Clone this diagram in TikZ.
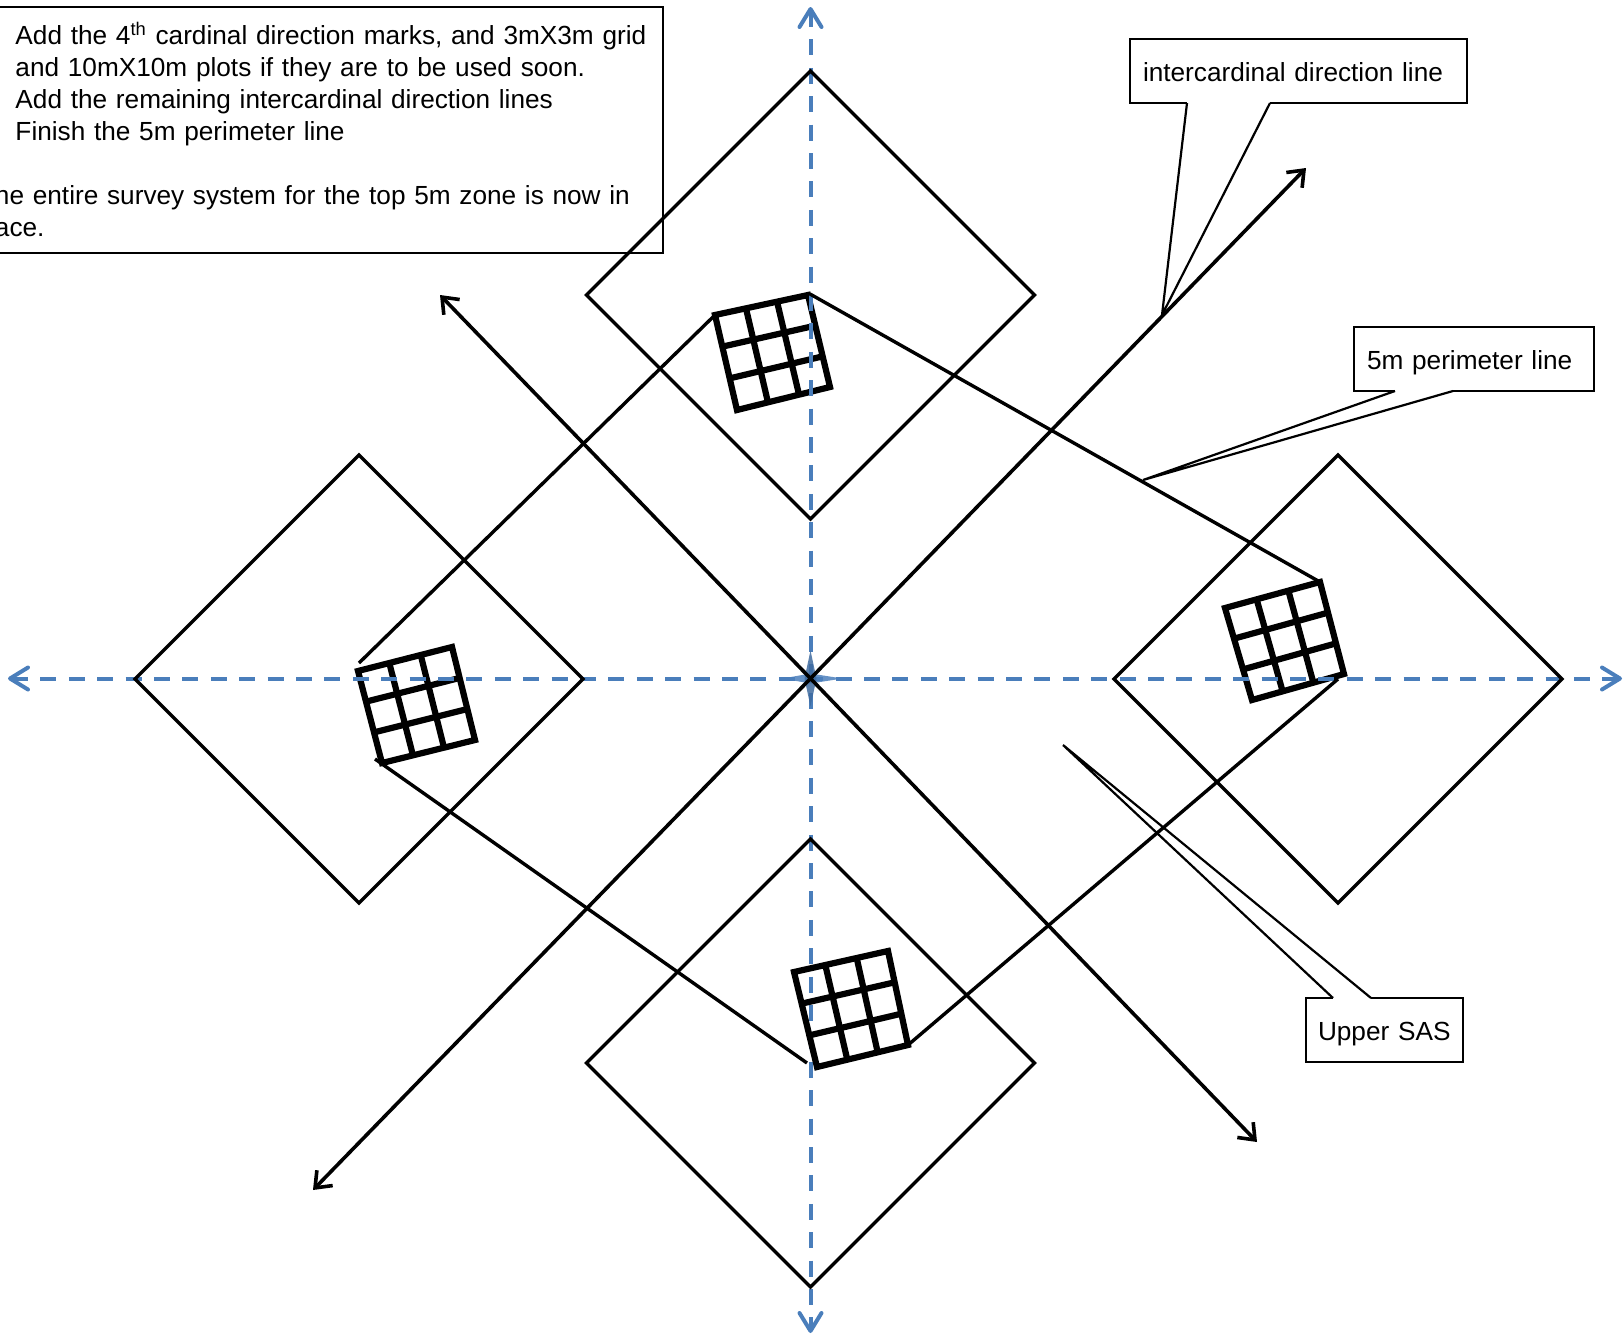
\documentclass[tikz,border=0pt]{standalone}
\usepackage{fontspec}
\setmainfont[WordSpace=0.9]{Liberation Sans}
\usetikzlibrary{shapes.geometric, arrows.meta, positioning, calc}
\definecolor{axisblue}{HTML}{4A7EBB}
\tikzset{
	zone/.style = {draw, diamond, aspect=1, inner sep=0pt, outer sep=0pt, minimum width=224pt, minimum height=224pt, line width=1.7pt},
	plotgrid/.style = {draw, line width=3.1pt, line join=miter},
	axis/.style = {axisblue, line width=2pt, dash pattern=on 8pt off 6.2pt, {Straight Barb[round,length=9pt,width=11pt]}-{Straight Barb[round,length=9pt,width=11pt]}},
	arrow/.style = {-{Straight Barb[length=7pt,width=11pt]}, line width=1.8pt},
	perimeter/.style = {line width=1.7pt},
	note/.style = {draw, fill=white, rectangle, anchor=north west, inner ysep=0pt, outer sep=0pt, line width=1.2pt, align=left, font=\fontsize{13.1}{16}\selectfont},
	tag/.style = {note, minimum height=32pt, text height=10pt, text depth=0pt},
	tail/.style = {line width=1.1pt, line join=miter},
}

\begin{document}
\begin{tikzpicture}[x=0.5pt, y=-0.5pt]
			\useasboundingbox (0,0) rectangle (1623,1334);
			
			% Notes box
			\node[note, inner xsep=7.5pt, text width=326.5pt, minimum height=123pt] (notes) at (-20,7) {\hspace*{10.25pt}Add the 4\textsuperscript{th} cardinal direction marks, and 3mX3m grid \\ \hspace*{10.25pt}and 10mX10m plots if they are to be used soon. \\ \hspace*{10.25pt}Add the remaining intercardinal direction lines \\ \hspace*{10.25pt}Finish the 5m perimeter line \\[16pt] he entire survey system for the top 5m zone is now in \\ ace.\rule[-1pt]{0pt}{0pt}};
			
			% Axis ends and centre
			\coordinate (north) at (810.5,7);
			\coordinate (south) at (810.5,1333);
			\coordinate (west) at (8,678.5);
			\coordinate (east) at (1622,678.5);
			\coordinate (origin) at (810.5,678.5);
			
			% Plot corners
			\coordinate (top-nw) at (715,315);
			\coordinate (top-ne) at (808,295);
			\coordinate (top-se) at (830,387);
			\coordinate (top-sw) at (737,410);
			\coordinate (right-nw) at (1225,608);
			\coordinate (right-ne) at (1320,582);
			\coordinate (right-se) at (1344,674);
			\coordinate (right-sw) at (1252,700);
			\coordinate (left-nw) at (358,671);
			\coordinate (left-ne) at (452,647);
			\coordinate (left-se) at (475,740);
			\coordinate (left-sw) at (382,763);
			\coordinate (bottom-nw) at (794,972);
			\coordinate (bottom-ne) at (888,951);
			\coordinate (bottom-se) at (908,1045);
			\coordinate (bottom-sw) at (817,1067);
			
			% 3mX3m grids
			\foreach \g in {top,right,left} {
				\draw[plotgrid] (\g-nw) -- (\g-ne) -- (\g-se) -- (\g-sw) -- cycle;
				\foreach \t in {0.333,0.667} {
					\draw[plotgrid] ($(\g-nw)!\t!(\g-ne)$) -- ($(\g-sw)!\t!(\g-se)$);
					\draw[plotgrid] ($(\g-nw)!\t!(\g-sw)$) -- ($(\g-ne)!\t!(\g-se)$);
				}
			}
			
			% Cardinal directions
			\draw[axis] (north) -- (south);
			\draw[axis] (west) -- (east);
			\fill[axisblue, fill opacity=0.85] (origin) ++(-28,0) -- ++(28,-5) -- ++(32,5) -- ++(-32,5) -- cycle;
			\fill[axisblue!85!black, fill opacity=0.85] (origin) ++(0,-28) -- ++(6,28) -- ++(-6,28) -- ++(-6,-28) -- cycle;
			
			% Last grid lies over the axis
			\foreach \g in {bottom} {
				\draw[plotgrid] (\g-nw) -- (\g-ne) -- (\g-se) -- (\g-sw) -- cycle;
				\foreach \t in {0.333,0.667} {
					\draw[plotgrid] ($(\g-nw)!\t!(\g-ne)$) -- ($(\g-sw)!\t!(\g-se)$);
					\draw[plotgrid] ($(\g-nw)!\t!(\g-sw)$) -- ($(\g-ne)!\t!(\g-se)$);
				}
			}
			
			% 10mX10m plots
			\node[zone] (topzone) at (810.5,295) {};
			\node[zone] (rightzone) at (1338,679) {};
			\node[zone] (bottomzone) at (810.5,1063) {};
			\node[zone] (leftzone) at (359,679) {};
			
			% Intercardinal directions
			\coordinate (ne) at (1306,168);
			\coordinate (nw) at (440,295);
			\coordinate (sw) at (313,1190);
			\coordinate (se) at (1257,1142);
			\draw[arrow] (origin) -- (ne);
			\draw[arrow] (origin) -- (nw);
			\draw[arrow] (origin) -- (sw);
			\draw[arrow] (origin) -- (se);
			
			% 5m perimeter line
			\coordinate (left-start) at (359,663);
			\coordinate (top-end) at (810,294);
			\coordinate (right-end) at (1338,679);
			\coordinate (bottom-end) at (807,1063);
			\coordinate (left-end) at (375,759);
			\draw[perimeter] (left-start) -- (top-nw);
			\draw[perimeter] (top-end) -- (right-ne);
			\draw[perimeter] (right-end) -- (bottom-se);
			\draw[perimeter] (bottom-end) -- (left-end);
			
			% Labels
			\node[tag, inner xsep=6.5pt, text width=155.5pt] (dirlabel) at (1130,39) {intercardinal direction line};
			\node[tag, inner xsep=6.5pt, text width=107pt] (perimlabel) at (1354,327) {5m perimeter line};
			\node[tag, inner xsep=6pt, text width=66.5pt] (saslabel) at (1306,998) {Upper SAS};
			
			% Label tails
			\coordinate (dirtip) at (1162,315);
			\coordinate (dira) at (1187,103);
			\coordinate (dirb) at (1270,103);
			\coordinate (perimtip) at (1143,480);
			\coordinate (perima) at (1395,391);
			\coordinate (perimb) at (1453,391);
			\coordinate (sastip) at (1063,745);
			\coordinate (sasa) at (1333,998);
			\coordinate (sasb) at (1371,998);
			\draw[white, line width=1.6pt] (dira) -- (dirb);
			\draw[white, line width=1.6pt] (perima) -- (perimb);
			\draw[white, line width=1.6pt] (sasa) -- (sasb);
			\draw[tail] (dira) -- (dirtip) -- (dirb);
			\draw[tail] (perima) -- (perimtip) -- (perimb);
			\draw[tail] (sasa) -- (sastip) -- (sasb);
			
		\end{tikzpicture}
\end{document}
